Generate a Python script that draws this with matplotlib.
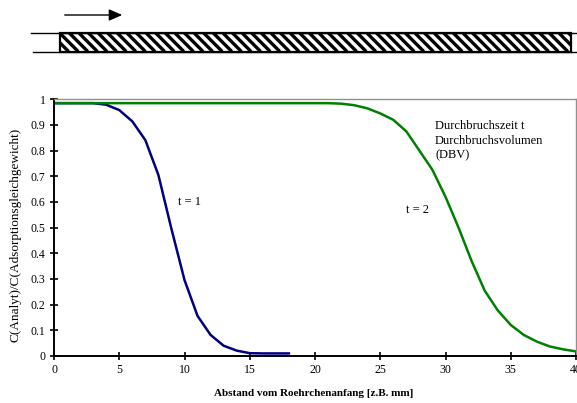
import numpy as np
import matplotlib.pyplot as plt
from matplotlib.patches import Rectangle

plt.rcParams["font.family"] = ["Liberation Serif", "DejaVu Serif"]

# breakthrough curves (x = distance, y = C/C0)
dist_t1 = list(range(0, 19))
conc_t1 = [0.985, 0.985, 0.985, 0.985, 0.979, 0.958, 0.914, 0.841, 0.705, 0.495,
           0.296, 0.156, 0.082, 0.040, 0.021, 0.011, 0.010, 0.010, 0.010]
dist_t2 = list(range(0, 41))
conc_t2 = [0.985] * 22 + [0.983, 0.977, 0.965, 0.945, 0.920, 0.875, 0.800, 0.725,
                          0.620, 0.500, 0.370, 0.255, 0.178, 0.121, 0.082, 0.056,
                          0.037, 0.026, 0.018]
x_ticks = [0, 5, 10, 15, 20, 25, 30, 35, 40]
y_ticks = [0, 0.1, 0.2, 0.3, 0.4, 0.5, 0.6, 0.7, 0.8, 0.9, 1]
y_tick_labels = ["0", "0.1", "0.2", "0.3", "0.4", "0.5", "0.6", "0.7", "0.8", "0.9", "1"]

W, H = 577, 403
fig = plt.figure(figsize=(W / 100, H / 100), dpi=100)

# --- tube sketch on top (pixel coordinates) ---
deco = fig.add_axes([0, 0, 1, 1])
deco.set_xlim(0, W)
deco.set_ylim(H, 0)
deco.axis("off")
deco.annotate("", xy=(125, 15), xytext=(62, 15),
              arrowprops=dict(arrowstyle="-|>,head_length=0.8,head_width=0.35",
                              color="black", lw=1.0))
deco.plot([31, W], [32.5, 32.5], color="black", lw=1.0)
deco.plot([33, W], [51.5, 51.5], color="black", lw=1.0)
box = Rectangle((60, 32.5), 511, 19, facecolor="white", edgecolor="black", lw=1.6)
deco.add_patch(box)
for x0 in np.arange(40, 590, 9.6):
    ln, = deco.plot([x0, x0 + 19], [32.5, 51.5], color="black", lw=2.4,
                    solid_capstyle="butt")
    ln.set_clip_path(box)

# --- chart ---
ax = fig.add_axes([54 / W, 1 - 356 / H, (576 - 54) / W, (356 - 99.3) / H])
ax.plot(dist_t1, conc_t1, color="#000080", lw=1.8)
ax.plot(dist_t2, conc_t2, color="#008000", lw=1.8)
ax.set_xlim(0, 40)
ax.set_ylim(0, 1)
ax.set_xticks(x_ticks)
ax.set_yticks(y_ticks)
ax.set_yticklabels(y_tick_labels)
ax.tick_params(direction="inout", length=6, width=1.2, labelsize=8.5, pad=3)
for s in ["left", "bottom"]:
    ax.spines[s].set_linewidth(1.4)
for s in ["top", "right"]:
    ax.spines[s].set_color("#909090")
    ax.spines[s].set_linewidth(1.0)

ax.set_xlabel("Abstand vom Roehrchenanfang [z.B. mm]", fontsize=8, fontweight="bold")
ax.set_ylabel("C(Analyt)/C(Adsorptionsgleichgewicht)", fontsize=9.5)
ax.xaxis.set_label_coords(0.498, -0.128)
ax.yaxis.set_label_coords(-0.062, 0.471)

ax.text(9.5, 0.6, "t = 1", fontsize=9, va="center")
ax.text(27.0, 0.57, "t = 2", fontsize=9, va="center")
ax.text(29.2, 0.918, "Durchbruchszeit t\nDurchbruchsvolumen\n(DBV)", fontsize=9,
        va="top", linespacing=1.3)

fig.savefig("out.png", dpi=100)
